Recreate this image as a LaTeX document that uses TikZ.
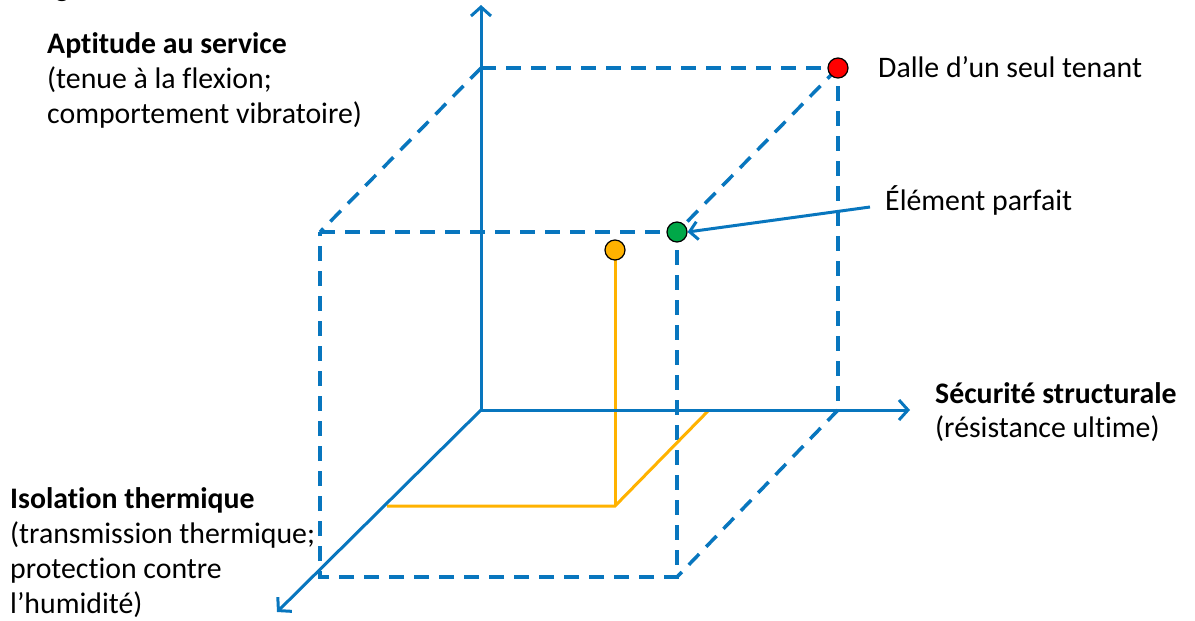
\documentclass[tikz,border=0pt]{standalone}
\usepackage{fontspec}
\setmainfont{Carlito}[Ligatures=NoCommon]
\usetikzlibrary{arrows.meta}
\definecolor{axisblue}{RGB}{8,118,190}
\definecolor{dotorange}{RGB}{255,178,0}
\definecolor{dotred}{RGB}{255,0,0}
\definecolor{dotgreen}{RGB}{0,168,72}
\tikzset{
  axisline/.style={draw=axisblue, line width=3pt, -{Straight Barb[length=9pt,width=20pt]}},
  boxline/.style={draw=axisblue, line width=3.5pt, dash pattern=on 15pt off 10pt},
  orangeline/.style={draw=dotorange, line width=3pt},
  dotnode/.style={circle, draw=black, line width=1.2pt, minimum size=20pt, inner sep=0pt},
  lbl/.style={anchor=base west, inner sep=0pt, font=\fontsize{29.8}{35}\selectfont},
  lblb/.style={lbl, font=\fontsize{29.8}{35}\selectfont\bfseries},
}
\begin{document}
\begin{tikzpicture}[x=1pt,y=-1pt]
\useasboundingbox (0,0) rectangle (1195,621);
% axis points
\coordinate (O) at (481,410);
\coordinate (ytip) at (481,5);
\coordinate (xtip) at (910,410);
\coordinate (ztip) at (277,612);
% box corners
\coordinate (bTL) at (481,68);
\coordinate (bTR) at (838,68);
\coordinate (bBR) at (838,410);
\coordinate (fTL) at (320,232);
\coordinate (fTR) at (677,232);
\coordinate (fBR) at (677,577);
\coordinate (fBL) at (320,577);
% orange path points
\coordinate (oTop) at (615,250);
\coordinate (oBot) at (615,506);
\coordinate (oLeft) at (387,506);
\coordinate (oRight) at (709,410);
% dashed box
\draw[boxline] (bTL) -- (bTR) -- (bBR);
\draw[boxline] (fTL) -- (fTR) -- (fBR) -- (fBL) -- cycle;
\draw[boxline] (bTL) -- (fTL);
\draw[boxline] (bTR) -- (fTR);
\draw[boxline] (bBR) -- (fBR);
% orange lines
\draw[orangeline] (oLeft) -- (oBot) -- (oRight);
\draw[orangeline] (oBot) -- (oTop);
% axes
\draw[axisline] (O) -- (ytip);
\draw[axisline] (O) -- (xtip);
\draw[axisline] (O) -- (ztip);
% dots
\node[dotnode, fill=dotorange] (dorange) at (oTop) {};
\node[dotnode, fill=dotred] (dred) at (bTR) {};
\node[dotnode, fill=dotgreen] (dgreen) at (fTR) {};
% labels
\node[lbl] (gfrag) at (55,-3) {g};
\node[lblb] (apt1) at (47,53) {Aptitude au service};
\node[lbl] (apt2) at (47,88) {(tenue à la flexion;};
\node[lbl] (apt3) at (47,123) {comportement vibratoire)};
\node[lbl] (dalle) at (878,77) {Dalle d’un seul tenant};
\node[lbl] (elem) at (885,210) {Élément parfait};
\node[lblb] (sec1) at (935,403) {Sécurité structurale};
\node[lbl] (sec2) at (935,437) {(résistance ultime)};
\node[lblb] (iso1) at (10,508) {Isolation thermique};
\node[lbl] (iso2) at (10,543) {(transmission thermique;};
\node[lbl] (iso3) at (10,578) {protection contre};
\node[lbl] (iso4) at (10,613) {l’humidité)};
% pointer
\coordinate (elemstart) at (870,207);
\draw[draw=axisblue, line width=3pt, -{Straight Barb[length=8pt,width=18pt]}] (elemstart) -- (dgreen.east);
\end{tikzpicture}
\end{document}
